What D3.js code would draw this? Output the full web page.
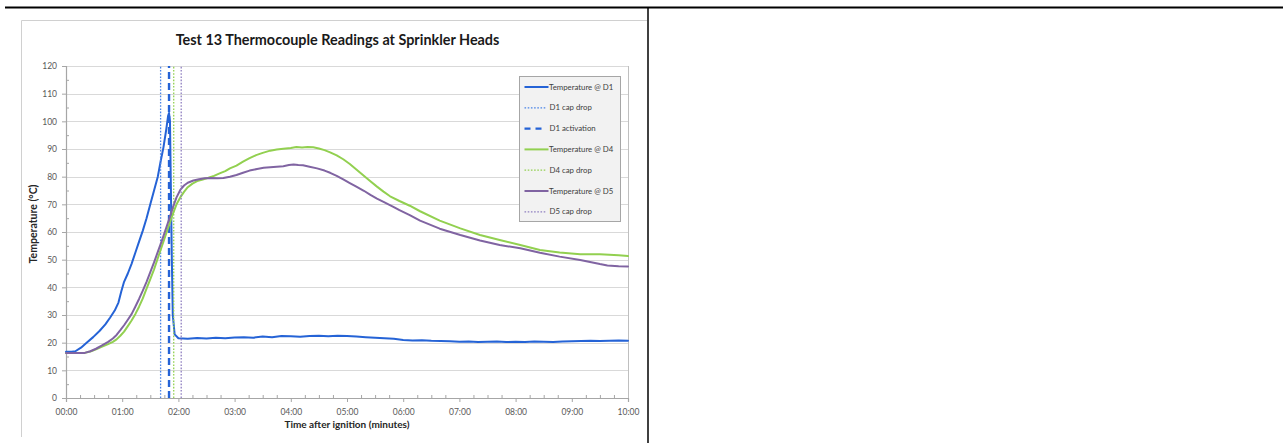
<!DOCTYPE html>
<html>
<head>
<meta charset="utf-8">
<script src="https://cdn.jsdelivr.net/npm/d3@7"></script>
<style>
  html, body { margin: 0; padding: 0; background: #fff; }
  svg { display: block; }
  text { font-family: Lato, "Open Sans", "Liberation Sans", sans-serif; }
</style>
</head>
<body>
<svg id="chart" width="1283" height="443"></svg>
<script>
// Time after ignition, seconds; temperatures in °C.
const timeD1 = [0, 6, 10, 16, 22, 29, 36, 42, 47, 52, 56, 59, 62, 66, 70, 74, 78, 82, 86, 90, 94, 98, 101, 104, 107, 109, 110, 111, 112, 113, 114, 116, 120,
  130, 140, 150, 160, 170, 180, 190, 200, 210, 220, 230, 240, 250, 260, 270, 280, 290, 300, 310, 320, 330, 340, 350, 360, 370, 380, 390, 400,
  410, 420, 430, 440, 450, 460, 470, 480, 490, 500, 510, 520, 530, 540, 550, 560, 570, 580, 590, 600];
const tempD1 = [16.7, 16.7, 16.9, 18.2, 20.0, 22.0, 24.3, 26.6, 29.0, 31.6, 34.5, 38.5, 42.0, 45.0, 48.5, 52.5, 56.5, 60.5, 65.0, 70.0, 75.0, 80.0, 85.5, 90.5, 97.0, 102.0, 103.0, 100.0, 75.0, 50.0, 30.0, 23.0, 21.6,
  21.4, 21.7, 21.5, 21.8, 21.6, 21.9, 22.0, 21.8, 22.2, 22.0, 22.4, 22.3, 22.1, 22.4, 22.5, 22.3, 22.5, 22.4, 22.2, 22.0, 21.8, 21.6, 21.4, 21.0, 20.8, 20.9, 20.7, 20.6,
  20.5, 20.3, 20.4, 20.2, 20.3, 20.4, 20.2, 20.3, 20.2, 20.4, 20.3, 20.2, 20.4, 20.5, 20.6, 20.7, 20.6, 20.7, 20.8, 20.7];

const timeD4 = [0, 10, 20, 26, 32, 38, 45, 50, 54, 58, 62, 66, 70, 74, 78, 82, 86, 90, 94, 98, 102, 106, 110, 114, 118, 122, 126, 130, 135, 140, 146, 152, 158, 164, 170, 175,
  182, 189, 196, 203, 210, 218, 225, 232, 240, 246, 252, 258, 264, 270, 276, 282, 289, 296, 303, 310, 317, 324, 332, 339, 346, 356, 367, 378, 399,
  421, 442, 463, 485, 506, 527, 549, 570, 590, 600];
const tempD4 = [16.3, 16.3, 16.3, 16.8, 17.6, 18.5, 19.5, 20.3, 21.2, 22.5, 24.0, 26.0, 28.0, 30.3, 33.0, 36.0, 39.5, 43.0, 46.5, 50.5, 54.5, 58.5, 62.5, 66.5, 70.0, 72.5, 74.5, 76.2, 77.5, 78.4, 79.0, 79.6, 80.3, 81.2, 82.0, 83.0,
  84.0, 85.4, 86.7, 87.8, 88.6, 89.4, 89.8, 90.1, 90.4, 90.7, 90.5, 90.7, 90.6, 90.2, 89.6, 88.8, 87.7, 86.3, 84.6, 82.6, 80.6, 78.6, 76.4, 74.6, 72.9, 71.2, 69.5, 67.5, 64.1,
  61.3, 58.9, 57.1, 55.3, 53.5, 52.6, 52.0, 52.0, 51.6, 51.3];

const timeD5 = [0, 10, 20, 26, 32, 38, 45, 50, 54, 58, 62, 66, 70, 74, 78, 82, 86, 90, 94, 98, 102, 106, 110, 114, 118, 122, 126, 130, 136, 142, 148, 155, 162, 168, 175,
  182, 189, 196, 204, 211, 218, 225, 232, 238, 243, 248, 253, 260, 268, 276, 282, 289, 296, 303, 310, 318, 325, 332, 339, 350, 356, 367, 378, 399,
  421, 442, 463, 485, 506, 527, 549, 570, 578, 590, 600];
const tempD5 = [16.3, 16.3, 16.3, 16.9, 17.8, 18.9, 20.3, 21.5, 22.8, 24.5, 26.3, 28.3, 30.3, 33.0, 35.8, 38.8, 42.0, 45.5, 49.0, 52.8, 56.5, 60.5, 64.5, 68.8, 72.5, 75.2, 76.8, 77.8, 78.6, 79.1, 79.4, 79.5, 79.4, 79.5, 80.0,
  80.6, 81.4, 82.2, 82.8, 83.2, 83.4, 83.6, 83.8, 84.2, 84.4, 84.2, 84.1, 83.6, 83.0, 82.2, 81.4, 80.3, 79.0, 77.7, 76.4, 74.9, 73.4, 72.1, 70.9, 69.0, 67.9, 66.1, 64.1, 61.2,
  58.9, 56.9, 55.3, 54.1, 52.5, 51.1, 49.9, 48.4, 47.9, 47.6, 47.5];

// Event times (seconds after ignition)
const capDropD1 = 101;
const activationD1 = 110;
const capDropD4 = 115;
const capDropD5 = 123;

const xTicks = [0, 60, 120, 180, 240, 300, 360, 420, 480, 540, 600];
const yTicks = [0, 10, 20, 30, 40, 50, 60, 70, 80, 90, 100, 110, 120];

const titleText = "Test 13 Thermocouple Readings at Sprinkler Heads";
const xTitle = "Time after ignition (minutes)";
const yTitle = "Temperature (°C)";

const BLUE = "#2563d6", GREEN = "#92d050", PURPLE = "#8064a2";

const svg = d3.select("#chart");
svg.append("rect").attr("width", 1283).attr("height", 443).attr("fill", "#fff");

// page table rules
svg.append("line").attr("x1", 5).attr("x2", 1283).attr("y1", 7.5).attr("y2", 7.5)
  .attr("stroke", "#000").attr("stroke-width", 2);
svg.append("line").attr("x1", 648).attr("x2", 648).attr("y1", 7).attr("y2", 443)
  .attr("stroke", "#000").attr("stroke-width", 1.5);

// chart frame
svg.append("path").attr("d", "M21.5,437 V20.5 H647")
  .attr("fill", "none").attr("stroke", "#d0d0d0").attr("stroke-width", 1);

const x = d3.scaleLinear().domain([0, 600]).range([66, 628]);
const y = d3.scaleLinear().domain([0, 120]).range([398, 66]);

// gridlines
svg.append("g").selectAll("line").data(yTicks.filter(d => d > 0)).join("line")
  .attr("x1", x(0)).attr("x2", x(600))
  .attr("y1", d => Math.round(y(d)) + 0.5).attr("y2", d => Math.round(y(d)) + 0.5)
  .attr("stroke", "#d9d9d9").attr("stroke-width", 1.2);

// right border of plot
svg.append("line").attr("x1", x(600) + 0.5).attr("x2", x(600) + 0.5)
  .attr("y1", y(120)).attr("y2", y(0)).attr("stroke", "#bfbfbf").attr("stroke-width", 1);

const fmtTime = s => String(Math.floor(s / 60)).padStart(2, "0") + ":" + String(s % 60).padStart(2, "0");

// x axis
const xAxis = svg.append("g").attr("transform", `translate(0,${y(0)})`)
  .call(d3.axisBottom(x).tickValues(xTicks).tickFormat(fmtTime).tickSize(4).tickPadding(7));
const xMinor = svg.append("g").attr("transform", `translate(0,${y(0)})`)
  .call(d3.axisTop(x).tickValues(d3.range(0, 601, 15).filter(d => d % 60 !== 0)).tickFormat("").tickSize(3));

// y axis
const yAxis = svg.append("g").attr("transform", `translate(${x(0)},0)`)
  .call(d3.axisLeft(y).tickValues(yTicks).tickSize(4).tickPadding(5));
const yMinor = svg.append("g").attr("transform", `translate(${x(0)},0)`)
  .call(d3.axisRight(y).tickValues(d3.range(5, 120, 10)).tickFormat("").tickSize(3));

[xAxis, xMinor, yAxis, yMinor].forEach(g => {
  g.select(".domain").attr("stroke", "#a6a6a6").attr("stroke-width", 1.2);
  g.selectAll(".tick line").attr("stroke", "#a6a6a6");
  g.selectAll("text").attr("fill", "#595959").attr("font-size", 8.5)
    .attr("font-family", "Lato, 'Open Sans', sans-serif");
});
xMinor.select(".domain").remove();
yMinor.select(".domain").remove();

// titles
svg.append("text").attr("x", 337.5).attr("y", 45).attr("text-anchor", "middle")
  .attr("font-size", 14.4).attr("font-weight", 700).attr("fill", "#1a1a1a").text(titleText);
svg.append("text").attr("x", 347).attr("y", 428).attr("text-anchor", "middle")
  .attr("font-size", 10).attr("font-weight", 700).attr("fill", "#262626").text(xTitle);
svg.append("text").attr("transform", "translate(36.5,224) rotate(-90)").attr("text-anchor", "middle")
  .attr("font-size", 10.5).attr("font-weight", 700).attr("fill", "#262626").text(yTitle);

const line = d3.line().x(d => x(d[0])).y(d => y(d[1]));
const zipSeries = (t, v) => t.map((s, i) => [s, v[i]]);

const series = [
  { name: "Temperature @ D1", type: "curve", data: zipSeries(timeD1, tempD1), color: BLUE, width: 2, dash: null },
  { name: "D1 cap drop", type: "event", at: capDropD1, color: "#4a84e6", width: 1.3, dash: "1.6,1.6" },
  { name: "D1 activation", type: "event", at: activationD1, color: BLUE, width: 2.4, dash: "7,4" },
  { name: "Temperature @ D4", type: "curve", data: zipSeries(timeD4, tempD4), color: GREEN, width: 2, dash: null },
  { name: "D4 cap drop", type: "event", at: capDropD4, color: GREEN, width: 1.3, dash: "1.6,1.6" },
  { name: "Temperature @ D5", type: "curve", data: zipSeries(timeD5, tempD5), color: PURPLE, width: 2, dash: null },
  { name: "D5 cap drop", type: "event", at: capDropD5, color: "#8f7fc0", width: 1.3, dash: "1.6,1.6" }
];

const plot = svg.append("g");
series.forEach(s => {
  if (s.type === "curve") {
    plot.append("path").datum(s.data).attr("d", line)
      .attr("fill", "none").attr("stroke", s.color).attr("stroke-width", s.width)
      .attr("stroke-linejoin", "round").attr("stroke-linecap", "round");
  } else {
    plot.append("line").attr("x1", x(s.at)).attr("x2", x(s.at))
      .attr("y1", y(0)).attr("y2", y(120))
      .attr("stroke", s.color).attr("stroke-width", s.width).attr("stroke-dasharray", s.dash);
  }
});

// legend
const lg = svg.append("g").attr("transform", "translate(519.5,76.5)");
lg.append("rect").attr("width", 101).attr("height", 145)
  .attr("fill", "#f2f2f2").attr("stroke", "#a6a6a6").attr("stroke-width", 1);
series.forEach((s, i) => {
  const yy = 10.5 + i * 20.8;
  const isDash = s.dash === "7,4";
  lg.append("line").attr("x1", 5).attr("x2", s.type === "curve" ? 29 : 26).attr("y1", yy).attr("y2", yy)
    .attr("stroke", s.color).attr("stroke-width", s.type === "curve" ? 2 : (isDash ? 2.4 : 1.3))
    .attr("stroke-dasharray", s.type === "curve" ? null : (isDash ? "6,5" : "1.6,1.6"));
  lg.append("text").attr("x", s.type === "curve" ? 29.5 : 30).attr("y", yy + 2.6).attr("font-size", 7.8)
    .attr("fill", "#404040").text(s.name);
});
</script>
</body>
</html>
